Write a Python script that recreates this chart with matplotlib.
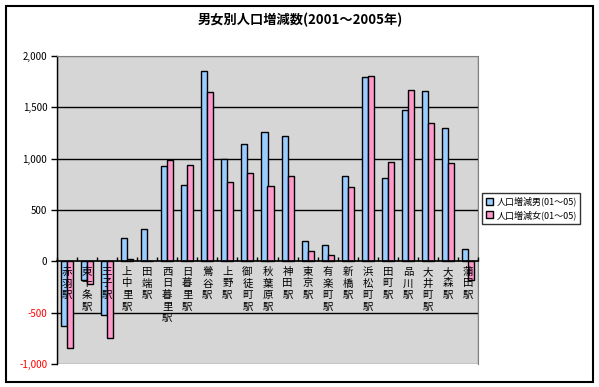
import numpy as np
import matplotlib.pyplot as plt
from matplotlib.patches import Rectangle

plt.rcParams['font.family'] = ['Noto Sans CJK JP', 'DejaVu Sans']

stations = ['赤羽駅', '東十条駅', '王子駅', '上中里駅', '田端駅', '西日暮里駅', '日暮里駅',
            '鶯谷駅', '上野駅', '御徒町駅', '秋葉原駅', '神田駅', '東京駅', '有楽町駅',
            '新橋駅', '浜松町駅', '田町駅', '品川駅', '大井町駅', '大森駅', '蒲田駅']
male = [-630, -180, -525, 231, 311, 925, 740, 1853, 1000, 1146, 1263, 1224, 201, 159,
        834, 1800, 815, 1470, 1655, 1302, 124]
female = [-842, -224, -745, 19, 7, 983, 941, 1652, 776, 864, 730, 834, 104, 62,
          727, 1810, 971, 1665, 1350, 961, -185]
yticks = [-1000, -500, 0, 500, 1000, 1500, 2000]
labels_legend = ['人口増減男(01～05)', '人口増減女(01～05)']

fig = plt.figure(figsize=(5.99, 3.87), dpi=100)
fig.patches.append(Rectangle((6/599, 5/387), 587/599, 376/387, transform=fig.transFigure,
                             fill=False, edgecolor='black', linewidth=1.5))
ax = fig.add_axes([57/599, 23/387, 421/599, 308/387])
ax.set_facecolor('#d6d6d6')

x = np.arange(len(stations))
w = 0.3
b1 = ax.bar(x - w/2, male, w, color='#99ccff', edgecolor='black', linewidth=1, label=labels_legend[0], zorder=3)
b2 = ax.bar(x + w/2, female, w, color='#ff99cc', edgecolor='black', linewidth=1, label=labels_legend[1], zorder=3)

ax.set_xlim(-0.5, len(stations) - 0.5)
ax.set_ylim(-1000, 2000)
ax.set_yticks(yticks)
ax.set_yticklabels([f'{v:,}' for v in yticks], fontsize=7)
for t, v in zip(ax.get_yticklabels(), yticks):
    if v < 0:
        t.set_color('red')
for v in [-500, 500, 1000, 1500]:
    ax.axhline(v, color='black', linewidth=1, zorder=1)
ax.tick_params(axis='y', direction='out', length=4, width=1, pad=3)

ax.spines['bottom'].set_position(('data', 0))
ax.spines['bottom'].set_zorder(4)
ax.spines['bottom'].set_linewidth(1.2)
ax.set_xticks(x)
ax.set_xticklabels(['\n'.join(s) for s in stations], fontsize=7.5, linespacing=1.2)
ax.set_xticks(np.arange(len(stations) + 1) - 0.5, minor=True)
ax.tick_params(axis='x', which='major', length=0, pad=4)
ax.tick_params(axis='x', which='minor', direction='in', length=3, width=1)
ax.xaxis.set_zorder(5)

for s in ['top', 'right']:
    ax.spines[s].set_color('#808080')
ax.spines['left'].set_linewidth(1)

# bottom edge of plot area
ax.add_patch(Rectangle((0, 0), 1, 1, transform=ax.transAxes, fill=False,
                       edgecolor='#808080', linewidth=1, zorder=0.5))

fig.text(300/599, 1 - 20/387, '男女別人口増減数(2001～2005年)', ha='center', va='center',
         fontsize=9.5, fontweight='bold')

leg = fig.legend(handles=[b1, b2], loc='upper left', bbox_to_anchor=(482/599, 1 - 193/387),
                 fontsize=6.5, frameon=True, fancybox=False, edgecolor='black',
                 handlelength=0.8, handleheight=0.8, handletextpad=0.4, borderpad=0.4,
                 labelspacing=0.4, borderaxespad=0)
leg.get_frame().set_linewidth(1)

fig.savefig('out.png', dpi=100)
